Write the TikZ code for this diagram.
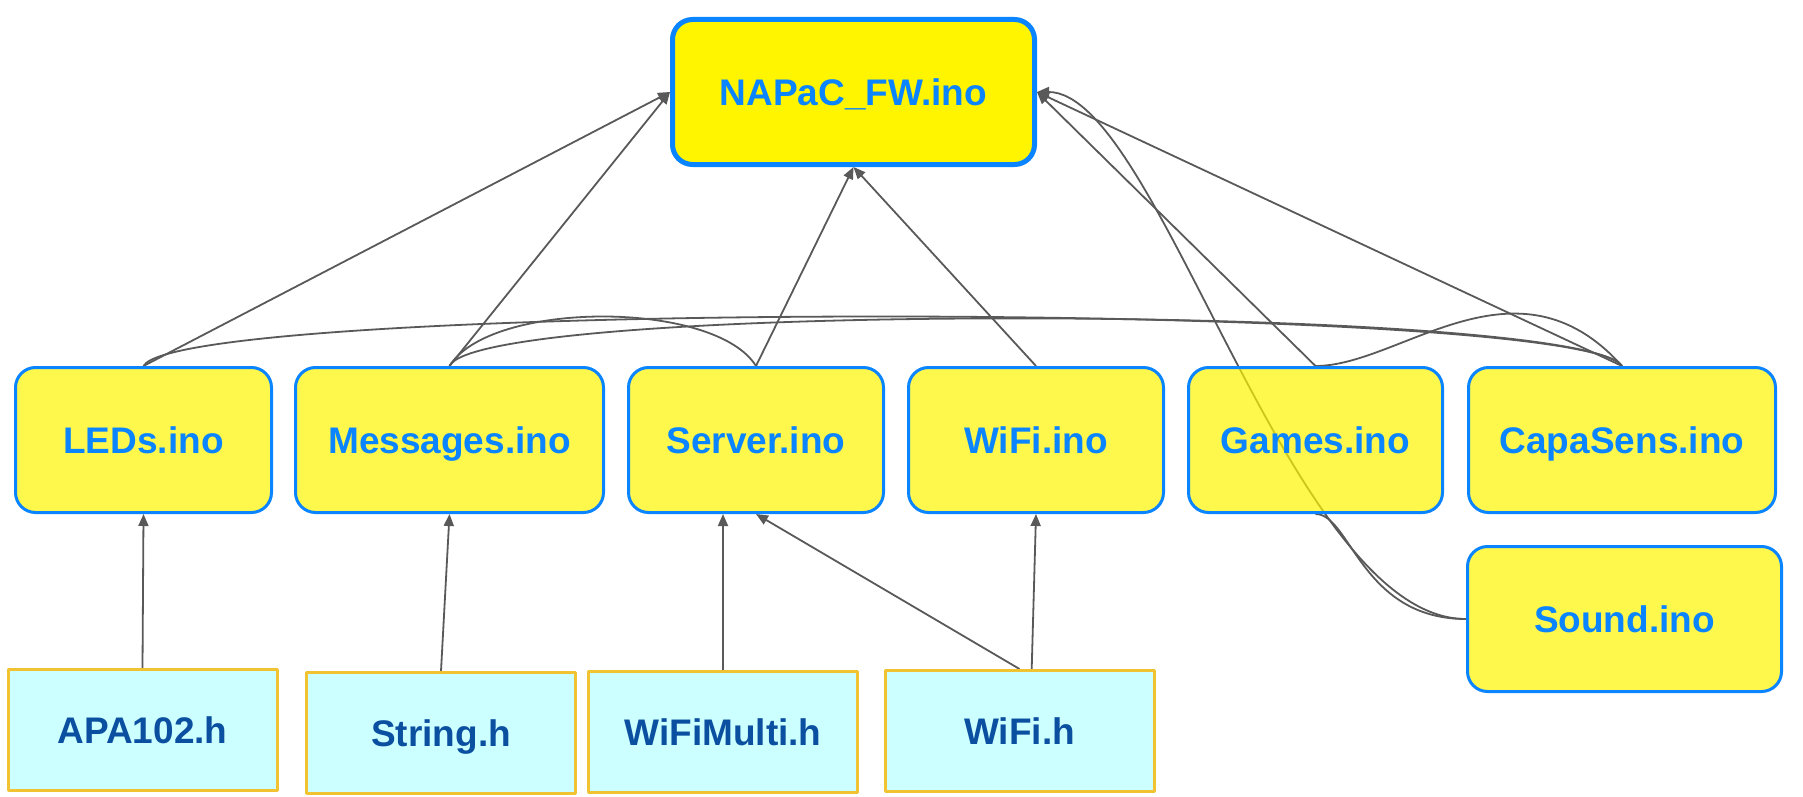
\documentclass[tikz,border=0pt]{standalone}
\usepackage{fontspec}
\setmainfont{Liberation Sans}
\usetikzlibrary{arrows.meta,backgrounds,calc}
\definecolor{napacyellow}{HTML}{FFF500}
\definecolor{inoblue}{HTML}{0A84FF}
\definecolor{hcyan}{HTML}{CCFFFF}
\definecolor{hborder}{HTML}{F1C232}
\definecolor{htext}{HTML}{0B4FA0}
\definecolor{linkgray}{HTML}{595959}
\tikzset{
	inobox/.style={draw=inoblue, line width=1.5pt, rounded corners=10pt, fill=napacyellow, fill opacity=0.7, text opacity=1, text=inoblue, minimum height=72.5pt, inner sep=0pt, text height=17pt, text depth=3.7pt},
	hbox/.style={draw=hborder, line width=1.5pt, fill=hcyan, text=htext, minimum width=134.5pt, minimum height=60.5pt, inner sep=0pt, text height=17pt, text depth=3.7pt},
	link/.style={draw=linkgray, line width=0.9pt},
}
\begin{document}
\begin{tikzpicture}[x=0.5pt, y=-0.5pt, font=\fontsize{18.5}{22}\selectfont\bfseries, line join=round, line cap=round, >={Triangle[length=6pt,width=5pt]}]
	\useasboundingbox (0,0) rectangle (1803,797);
	\node[inobox, fill opacity=1, line width=2.5pt, minimum width=181pt] (napac) at (853.5,92) {NAPaC\_FW.ino};
	\foreach \n/\x/\w/\lbl in {leds/143.5/128/LEDs.ino, msgs/449.5/154/Messages.ino, server/756/127.5/Server.ino, wifiino/1036/127.5/WiFi.ino, games/1315.5/127/Games.ino, capa/1622/153.5/CapaSens.ino}{
		\node[inobox, minimum width=\w pt] (\n) at (\x,440) {\lbl};}
	\node[inobox, minimum width=157pt] (sound) at (1624.5,619) {Sound.ino};
	\foreach \n/\x/\y/\lbl in {apa/142.5/730/APA102.h, string/441/733/String.h, wifimulti/723/732/WiFiMulti.h, wifih/1019.5/731/WiFi.h}{
		\node[hbox] (\n) at (\x,\y) {\lbl};}
	% links
	\begin{scope}[on background layer]
	\begin{scope}[link]
		\foreach \n in {leds,msgs}{
			\draw[->] (\n.north) -- (napac.west);}
		\foreach \n in {server,wifiino}{
			\draw[->] (\n.north) -- (napac.south);}
		\foreach \n in {games,capa}{
			\draw[->] (\n.north) -- (napac.east);}
		\draw[->] (sound.west) .. controls +(-176,0) and +(122,0) .. (napac.east);
		\draw (leds.north) .. controls +(37,-66) and +(-42,-66) .. (capa.north);
		\draw (msgs.north) .. controls +(31,-66) and +(-42,-61) .. (capa.north);
		\draw (msgs.north) .. controls +(41,-66) and +(-41,-66) .. (server.north);
		\draw (games.north) .. controls +(85,0) and +(-106,-118) .. (capa.north);
		\draw (games.south) .. controls +(35,0) and +(-105,0) .. (sound.west);
		%\draw[dashed] (games.south) -- (sound.west);
		\draw[->] (apa.north) -- (leds.south);
		\draw[->] (string.north) -- (msgs.south);
		\draw[->] (wifimulti.north) -- (wifimulti.north |- server.south);
		\draw[->] (wifih.north) -- (server.south);
		\draw[->] ($(wifih.north)+(12,7)$) -- (wifiino.south);
	\end{scope}
	\end{scope}
\end{tikzpicture}
\end{document}
